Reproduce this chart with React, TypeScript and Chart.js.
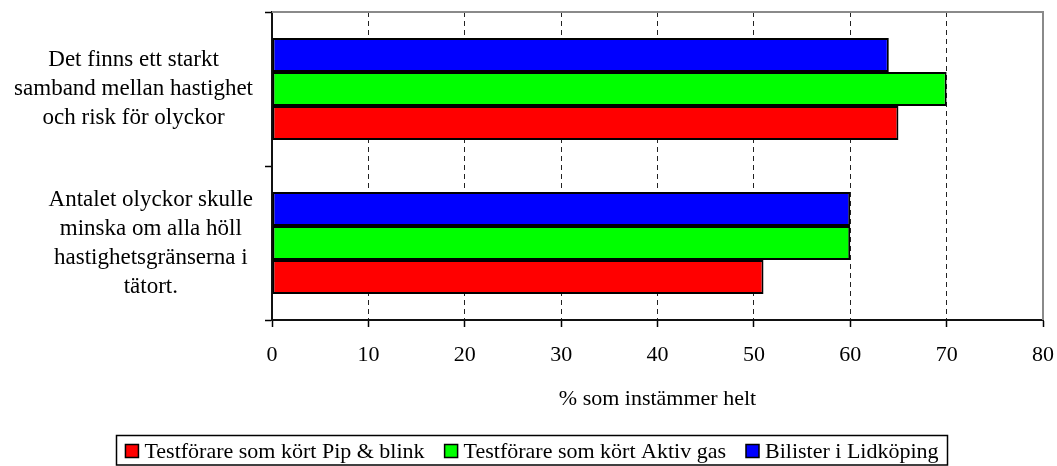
import React, { useEffect, useRef } from "react";
import { Chart, registerables } from "chart.js";

Chart.register(...registerables);

const categories: string[][] = [
  ["Det finns ett starkt", "samband mellan hastighet", "och risk för olyckor"],
  ["Antalet olyckor skulle", "minska om alla höll", "hastighetsgränserna i", "tätort."],
];
const seriesNames = [
  "Testförare som kört Pip & blink",
  "Testförare som kört Aktiv gas",
  "Bilister i Lidköping",
];
const pipBlink = [65, 51];
const aktivGas = [70, 60];
const bilister = [64, 60];
const xMin = 0;
const xMax = 80;
const xStep = 10;
const axisTitle = "% som instämmer helt";
const seriesColors = ["#FF0000", "#00FF00", "#0000FF"];

const FONT = "'Liberation Serif', 'Times New Roman', serif";
const FS = 22;
const FS_CAT = 23;

const frameLabelsLegend = {
  id: "frameLabelsLegend",
  beforeDatasetsDraw(chart: any) {
    const { ctx, chartArea } = chart;
    ctx.save();
    ctx.strokeStyle = "#8a8a8a";
    ctx.lineWidth = 2;
    ctx.beginPath();
    ctx.moveTo(chartArea.left, chartArea.top);
    ctx.lineTo(chartArea.right, chartArea.top);
    ctx.lineTo(chartArea.right, chartArea.bottom);
    ctx.stroke();
    ctx.restore();
  },
  afterDraw(chart: any) {
    const { ctx } = chart;
    const yScale = chart.scales.y;
    ctx.save();
    ctx.font = `${FS_CAT}px ${FONT}`;
    ctx.fillStyle = "#000";
    ctx.textBaseline = "middle";
    ctx.textAlign = "center";
    // category labels: blocks right-aligned, lines centered within block
    const rightEdge = 253;
    const lh = 29;
    categories.forEach((lines, i) => {
      const yc = yScale.getPixelForValue(i);
      const widest = Math.max(...lines.map((l) => ctx.measureText(l).width));
      const cx = rightEdge - widest / 2;
      lines.forEach((line, j) => {
        ctx.fillText(line, cx, yc + (j - (lines.length - 1) / 2) * lh);
      });
    });

    // legend (series order, reverse of drawing order)
    ctx.font = `${FS}px ${FONT}`;
    const items = chart.data.datasets.slice().reverse();
    const sq = 13;
    const gapText = 6;
    const gapItem = 20;
    const widths = items.map((d: any) => ctx.measureText(d.label).width);
    const total =
      widths.reduce((a: number, b: number) => a + b, 0) +
      items.length * (sq + gapText) +
      gapItem * (items.length - 1);
    const cxL = 532;
    const yL = 451;
    let x = cxL - total / 2;
    ctx.lineWidth = 1.5;
    ctx.strokeStyle = "#000";
    ctx.strokeRect(Math.round(x - 9) + 0.5, 435.5, Math.round(total + 18), 29.5);
    ctx.textAlign = "left";
    items.forEach((d: any, i: number) => {
      ctx.fillStyle = d.backgroundColor;
      ctx.fillRect(x, yL - sq / 2, sq, sq);
      ctx.strokeRect(x, yL - sq / 2, sq, sq);
      ctx.fillStyle = "#000";
      ctx.fillText(d.label, x + sq + gapText, yL + 1);
      x += sq + gapText + widths[i] + gapItem;
    });
    ctx.restore();
  },
};

export default function App() {
  const ref = useRef<HTMLCanvasElement | null>(null);
  useEffect(() => {
    if (!ref.current) return;
    const chart = new Chart(ref.current, {
      type: "bar",
      data: {
        labels: categories.map((c) => c.join(" ")),
        datasets: [
          { label: seriesNames[2], data: bilister, backgroundColor: seriesColors[2] },
          { label: seriesNames[1], data: aktivGas, backgroundColor: seriesColors[1] },
          { label: seriesNames[0], data: pipBlink, backgroundColor: seriesColors[0] },
        ].map((d) => ({
          ...d,
          borderColor: "#000",
          borderWidth: 2,
          borderSkipped: false,
          barPercentage: 1,
          categoryPercentage: 0.662,
        })),
      },
      options: {
        indexAxis: "y",
        responsive: false,
        animation: false,
        layout: { padding: { left: 0, top: 12, right: 14, bottom: 0 } },
        plugins: {
          legend: { display: false },
          tooltip: { enabled: false },
        },
        scales: {
          x: {
            type: "linear",
            min: xMin,
            max: xMax,
            ticks: {
              stepSize: xStep,
              color: "#000",
              font: { family: FONT, size: FS },
              padding: 15,
            },
            grid: {
              color: (c: any) =>
                c.tick && (c.tick.value === xMin || c.tick.value === xMax) ? "rgba(0,0,0,0)" : "#222",
              lineWidth: 1,
              tickColor: "#000",
              tickLength: 7,
              tickWidth: 1.5,
            },
            border: { display: true, color: "#111", width: 2, dash: [5, 4] },
            title: {
              display: true,
              text: axisTitle,
              color: "#000",
              font: { family: FONT, size: FS },
              padding: { top: 0, bottom: 54 },
            },
            afterFit: (s: any) => {
              s.height = 146;
              s.paddingLeft = 0;
              s.paddingRight = 0;
            },
          },
          y: {
            type: "category",
            offset: true,
            ticks: { display: false },
            grid: {
              offset: true,
              drawOnChartArea: false,
              drawTicks: true,
              tickLength: 7,
              tickColor: "#000",
              tickWidth: 1.5,
            },
            border: { display: true, color: "#111", width: 2 },
            afterFit: (s: any) => {
              s.width = 272;
              s.paddingTop = 0;
              s.paddingBottom = 0;
            },
          },
        },
      },
      plugins: [frameLabelsLegend],
    });
    return () => chart.destroy();
  }, []);
  return (
    <div style={{ position: "fixed", left: 0, top: 0, width: 1057, height: 466, background: "#fff" }}>
      <canvas ref={ref} width={1057} height={466} style={{ display: "block" }} />
    </div>
  );
}
